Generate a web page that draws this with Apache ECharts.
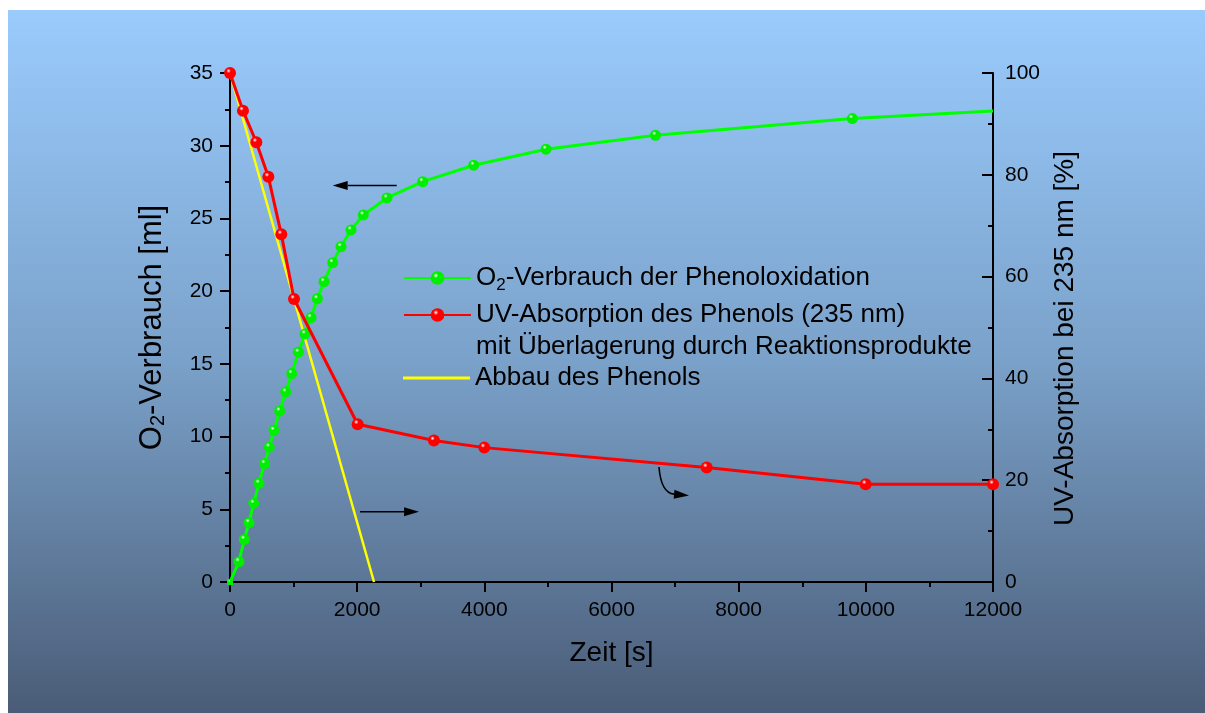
<!DOCTYPE html>
<html><head><meta charset="utf-8">
<script src="https://cdn.jsdelivr.net/npm/echarts@6/dist/echarts.min.js"></script>
<style>html,body{margin:0;padding:0;background:#fff}#c{width:1205px;height:713px}</style>
</head><body><div id="c"></div>
<script>
// ---- data ----
const o2Time = [0, 141, 225, 299, 373, 456, 545, 618, 692, 781, 876, 970, 1077, 1180, 1274, 1373, 1478, 1615, 1746, 1903, 2097, 2469, 3030, 3833, 4970, 6692, 9788, 12000];
const o2Ml   = [0, 1.40, 2.93, 4.08, 5.41, 6.79, 8.14, 9.28, 10.43, 11.76, 13.07, 14.33, 15.80, 17.06, 18.18, 19.48, 20.65, 21.96, 23.06, 24.21, 25.24, 26.41, 27.53, 28.66, 29.76, 30.72, 31.87, 32.39];
const uvTime    = [0, 204, 414, 603, 807, 1007, 2008, 3208, 4000, 7497, 9997, 12000];
const uvPercent = [100, 92.6, 86.4, 79.6, 68.3, 55.6, 31.0, 27.8, 26.4, 22.5, 19.2, 19.2];
const abbauTime    = [0, 2265];
const abbauPercent = [100, 0];
const xTicks = [0, 2000, 4000, 6000, 8000, 10000, 12000];
const yLeftTicks = [0, 5, 10, 15, 20, 25, 30, 35];
const yRightTicks = [0, 20, 40, 60, 80, 100];
// annotation arrows, in (time, ml) data space
const arrowLeft  = [[2622, 27.26], [1615, 27.26]];
const arrowRight = [[2045, 4.83], [2973, 4.83]];
const arrowCurve = [[6747, 7.91], [6779, 6.12], [7219, 5.95]];

const nameO2 = 'O2-Verbrauch der Phenoloxidation';
const nameUV = 'UV-Absorption des Phenols (235 nm)\nmit Überlagerung durch Reaktionsprodukte';
const nameAb = 'Abbau des Phenols';

const FONT = "'Liberation Sans', Arial, sans-serif";
function ball(c) {
  return {type: 'radial', x: 0.38, y: 0.32, r: 0.75,
    colorStops: [{offset: 0, color: '#ffffff'}, {offset: 0.25, color: c}, {offset: 1, color: c}]};
}
const zip = (a, b) => a.map((v, i) => [v, b[i]]);

const chart = echarts.init(document.getElementById('c'), null, {renderer: 'canvas'});
const axisCommon = {
  axisLine: {show: true, lineStyle: {color: '#000', width: 2}},
  splitLine: {show: false}
};
const LH = 31.5;
const legendText = {
  color: '#000', fontFamily: FONT, fontSize: 26, lineHeight: LH,
  rich: {sub: {fontSize: 17, fontFamily: FONT, color: '#000', verticalAlign: 'bottom', lineHeight: 21}}
};
const fmtSub = n => n.replace(/^O2/, 'O{sub|2}');
const tickLbl = {color: '#000', fontFamily: FONT, fontSize: 21, formatter: v => String(v)};

chart.setOption({
  animation: false,
  backgroundColor: '#ffffff',
  graphic: [{
    id: 'bg', type: 'rect', z: -100, silent: true,
    shape: {x: 8, y: 10, width: 1197, height: 703},
    style: {fill: {type: 'linear', x: 0, y: 0, x2: 0, y2: 1,
      colorStops: [{offset: 0, color: '#9acbfd'}, {offset: 0.5, color: '#7aa1c9'}, {offset: 1, color: '#4a5c77'}]}}
  }],
  grid: {left: 230, right: 212, top: 73, bottom: 131, containLabel: false},
  legend: [{
    orient: 'vertical', left: 403, top: 278 - LH / 2, padding: 0, itemGap: 37 - 2 * LH,
    itemWidth: 67, itemHeight: 17,
    formatter: fmtSub, textStyle: legendText,
    data: [{name: nameO2}, {name: nameUV, textStyle: {padding: [LH, 0, 0, 0]}}]
  }, {
    orient: 'vertical', left: 403, top: 378 - LH / 2, padding: 0,
    itemWidth: 67, itemHeight: 3,
    textStyle: legendText,
    data: [{name: nameAb, icon: 'rect'}]
  }],
  xAxis: Object.assign({}, axisCommon, {
    type: 'value', min: xTicks[0], max: xTicks[xTicks.length - 1], interval: xTicks[1] - xTicks[0],
    name: 'Zeit [s]', nameLocation: 'middle', nameGap: 57,
    nameTextStyle: {color: '#000', fontFamily: FONT, fontSize: 28},
    axisTick: {show: true, inside: false, length: 10, lineStyle: {color: '#000', width: 2}},
    minorTick: {show: true, splitNumber: 2, length: 5, lineStyle: {color: '#000', width: 2}},
    axisLabel: Object.assign({margin: 18}, tickLbl)
  }),
  yAxis: [Object.assign({}, axisCommon, {
    type: 'value', position: 'left', min: yLeftTicks[0], max: yLeftTicks[yLeftTicks.length - 1],
    interval: yLeftTicks[1] - yLeftTicks[0],
    name: 'O{sub|2}-Verbrauch [ml]', nameLocation: 'middle', nameGap: 62, nameRotate: 90,
    nameTextStyle: {color: '#000', fontFamily: FONT, fontSize: 31,
      rich: {sub: {fontSize: 20, fontFamily: FONT, color: '#000', verticalAlign: 'bottom', lineHeight: 24}}},
    axisTick: {show: true, inside: false, length: 10, lineStyle: {color: '#000', width: 2}},
    minorTick: {show: true, splitNumber: 2, length: 5, lineStyle: {color: '#000', width: 2}},
    axisLabel: Object.assign({margin: 17}, tickLbl)
  }), Object.assign({}, axisCommon, {
    type: 'value', position: 'right', min: yRightTicks[0], max: yRightTicks[yRightTicks.length - 1],
    interval: yRightTicks[1] - yRightTicks[0],
    name: 'UV-Absorption bei 235 nm [%]', nameLocation: 'middle', nameGap: 41, nameRotate: 90,
    nameTextStyle: {color: '#000', fontFamily: FONT, fontSize: 28, padding: [0, 22, 0, 0]},
    axisTick: {show: true, inside: true, length: 11, lineStyle: {color: '#000', width: 2}},
    minorTick: {show: true, splitNumber: 2, length: 5, lineStyle: {color: '#000', width: 2}},
    axisLabel: Object.assign({margin: 12}, tickLbl)
  })],
  series: [{
    name: nameO2, type: 'line', xAxisIndex: 0, yAxisIndex: 0,
    data: zip(o2Time, o2Ml),
    symbol: (v, p) => p.dataIndex === 0 ? 'rect' : 'circle',
    symbolSize: (v, p) => p.dataIndex === 0 ? 6 : (p.dataIndex === o2Time.length - 1 ? 0 : 11),
    showAllSymbol: true,
    lineStyle: {color: '#00ff00', width: 3},
    itemStyle: {color: ball('#00ee00'), borderWidth: 0},
    z: 2
  }, {
    name: nameUV, type: 'line', xAxisIndex: 0, yAxisIndex: 1,
    data: zip(uvTime, uvPercent),
    symbol: 'circle', symbolSize: 12, showAllSymbol: true,
    lineStyle: {color: '#ff0000', width: 3},
    itemStyle: {color: ball('#ff0000'), borderWidth: 0},
    z: 3
  }, {
    name: nameAb, type: 'line', xAxisIndex: 0, yAxisIndex: 1,
    data: zip(abbauTime, abbauPercent),
    symbol: 'none',
    lineStyle: {color: '#ffff00', width: 2.5},
    itemStyle: {color: '#ffff00'},
    z: 2
  }]
});

// arrows, positioned through the chart's own scales
function px(p) { return chart.convertToPixel({xAxisIndex: 0, yAxisIndex: 0}, p); }
function head(tip, from, id) {
  const dx = tip[0] - from[0], dy = tip[1] - from[1];
  const L = Math.hypot(dx, dy), ux = dx / L, uy = dy / L;
  const h = 15, w = 4.5;
  const bx = tip[0] - ux * h, by = tip[1] - uy * h;
  return {base: [bx, by], el: {id: id, type: 'polygon', z: 100, silent: true,
    shape: {points: [tip, [bx - uy * w, by + ux * w], [bx + uy * w, by - ux * w]]},
    style: {fill: '#000'}}};
}
function straight(pair, id) {
  const a = px(pair[0]), b = px(pair[1]);
  const hd = head(b, a, id + 'h');
  return [{id: id, type: 'line', z: 100, silent: true,
    shape: {x1: a[0], y1: a[1], x2: hd.base[0], y2: hd.base[1]},
    style: {stroke: '#000', lineWidth: 1.6}}, hd.el];
}
const s = px(arrowCurve[0]), cp = px(arrowCurve[1]), tip = px(arrowCurve[2]);
const hc = head(tip, cp, 'ch');
chart.setOption({graphic: [].concat(
  straight(arrowLeft, 'al'), straight(arrowRight, 'ar'),
  [{id: 'cv', type: 'bezierCurve', z: 100, silent: true,
    shape: {x1: s[0], y1: s[1], cpx1: cp[0], cpy1: cp[1], x2: hc.base[0], y2: hc.base[1]},
    style: {stroke: '#000', lineWidth: 1.6, fill: null}}, hc.el]
)});
</script>
</body></html>
